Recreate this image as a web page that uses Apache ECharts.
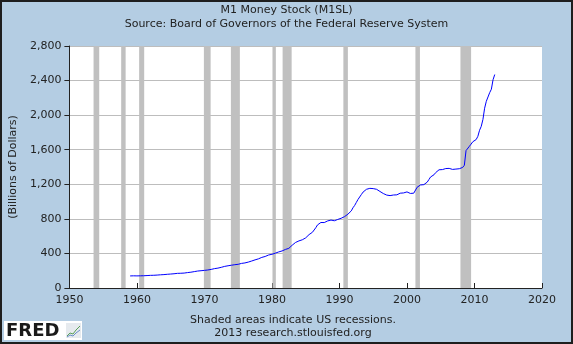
<!DOCTYPE html>
<html>
<head>
<meta charset="utf-8">
<title>M1 Money Stock (M1SL)</title>
<script src="https://cdn.jsdelivr.net/npm/echarts@6/dist/echarts.min.js"></script>
<style>
  html, body { margin: 0; padding: 0; background: #b4cde3; }
  #chart { width: 573px; height: 344px; }
</style>
</head>
<body>
<div id="chart"></div>
<script>
// M1 money stock, billions of dollars, quarterly readings starting 1959 Q1
const m1StartYear = 1959;
const m1Quarterly = [
  139.7, 140.6, 141.0, 140.3,   // 1959
  140.0, 139.8, 141.0, 141.0,   // 1960
  141.8, 143.0, 143.9, 145.5,   // 1961
  146.4, 147.2, 147.3, 148.3,   // 1962
  149.6, 151.0, 152.6, 153.6,   // 1963
  155.0, 156.6, 158.7, 160.1,   // 1964
  161.5, 162.6, 164.7, 167.0,   // 1965
  169.4, 170.8, 170.5, 171.5,   // 1966
  172.8, 175.4, 178.4, 180.6,   // 1967
  182.8, 186.5, 189.5, 193.1,   // 1968
  196.2, 198.8, 200.1, 201.6,   // 1969
  203.8, 205.5, 208.3, 211.6,   // 1970
  215.3, 220.5, 224.2, 226.0,   // 1971
  230.1, 234.4, 239.2, 245.2,   // 1972
  250.1, 254.3, 257.2, 260.5,   // 1973
  263.5, 267.1, 269.7, 272.9,   // 1974
  274.1, 279.5, 284.6, 286.8,   // 1975
  290.0, 296.0, 299.9, 305.9,   // 1976
  312.2, 318.6, 325.5, 331.5,   // 1977
  337.3, 347.4, 354.0, 359.0,   // 1978
  364.7, 373.0, 381.5, 384.7,   // 1979
  390.1, 386.7, 403.0, 412.2,   // 1980
  417.4, 427.3, 428.7, 436.6,   // 1981
  446.3, 450.3, 459.0, 476.6,   // 1982
  495.0, 512.0, 527.0, 536.0,   // 1983
  545.0, 554.0, 558.0, 566.0,   // 1984
  580.0, 597.0, 618.0, 632.0,   // 1985
  645.0, 668.0, 698.0, 730.0,   // 1986
  748.0, 758.0, 755.0, 757.0,   // 1987
  762.0, 776.0, 784.0, 786.0,   // 1988
  786.0, 778.0, 784.0, 793.0,   // 1989
  800.0, 807.0, 817.0, 826.0,   // 1990
  836.0, 854.0, 868.0, 892.0,   // 1991
  928.0, 955.0, 990.0, 1025.0,  // 1992
  1048.0, 1082.0, 1110.0, 1130.0, // 1993
  1142.0, 1148.0, 1153.0, 1152.0, // 1994
  1150.0, 1147.0, 1142.0, 1127.0, // 1995
  1117.0, 1110.0, 1093.0, 1080.0, // 1996
  1075.0, 1068.0, 1069.0, 1072.0, // 1997
  1076.0, 1075.0, 1078.0, 1093.0, // 1998
  1097.0, 1102.0, 1100.0, 1122.0, // 1999
  1112.0, 1103.0, 1094.0, 1087.0, // 2000
  1097.0, 1120.0, 1165.0, 1185.0, // 2001
  1192.0, 1188.0, 1196.0, 1212.0, // 2002
  1225.0, 1255.0, 1285.0, 1296.0, // 2003
  1310.0, 1335.0, 1348.0, 1368.0, // 2004
  1372.0, 1370.0, 1375.0, 1382.0, // 2005
  1385.0, 1384.0, 1370.0, 1372.0, // 2006
  1374.0, 1376.0, 1375.0, 1380.0, // 2007
  1388.0, 1395.0, 1420.0, 1590.0, // 2008
  1600.0, 1640.0, 1665.0, 1692.0, // 2009
  1700.0, 1718.0, 1755.0, 1825.0, // 2010
  1870.0, 1950.0, 2080.0, 2160.0, // 2011
  2210.0, 2260.0, 2300.0, 2410.0, // 2012
  2470.0                          // 2013
];

// NBER recession periods (decimal years)
const recessionStarts = [1953.58, 1957.67, 1960.33, 1969.92, 1973.92, 1980.08, 1981.58, 1990.58, 2001.25, 2007.92];
const recessionEnds   = [1954.42, 1958.33, 1961.08, 1970.92, 1975.25, 1980.58, 1982.92, 1991.25, 2001.92, 2009.50];

const xTicks = { min: 1950, max: 2020, step: 10 };
const yTicks = { min: 0, max: 2800, step: 400 };

const titleText = 'M1 Money Stock (M1SL)';
const sourceText = 'Source: Board of Governors of the Federal Reserve System';
const noteText = 'Shaded areas indicate US recessions.';
const creditText = '2013 research.stlouisfed.org';
const yAxisTitle = '(Billions of Dollars)';

const FONT = 'DejaVu Sans';
const TEXT = '#222';

const m1Points = m1Quarterly.map((v, i) => [m1StartYear + i / 4, v]);
const recessionAreas = recessionStarts.map((s, i) => [{ xAxis: s }, { xAxis: recessionEnds[i] }]);

const chart = echarts.init(document.getElementById('chart'), null, { renderer: 'canvas' });

chart.setOption({
  backgroundColor: '#b4cde3',
  animation: false,
  grid: {
    left: 62, right: 31, top: 46, bottom: 56,
    show: true, backgroundColor: '#ffffff', borderWidth: 0
  },
  xAxis: {
    type: 'value',
    min: xTicks.min, max: xTicks.max, interval: xTicks.step,
    axisLine: { show: true, lineStyle: { color: '#222', width: 1 } },
    axisTick: { show: true, inside: true, length: 5, lineStyle: { color: '#222' } },
    splitLine: { show: false },
    axisLabel: { color: TEXT, fontFamily: FONT, fontSize: 11, margin: 7, formatter: v => String(v) }
  },
  yAxis: {
    type: 'value',
    min: yTicks.min, max: yTicks.max, interval: yTicks.step,
    name: yAxisTitle,
    nameLocation: 'middle',
    nameRotate: 90,
    nameGap: 48,
    nameTextStyle: { color: TEXT, fontFamily: FONT, fontSize: 11 },
    axisLine: { show: true, lineStyle: { color: '#222', width: 1 } },
    axisTick: { show: true, inside: false, length: 5, lineStyle: { color: '#222' } },
    splitLine: { show: true, lineStyle: { color: '#bdbdbd', width: 1 } },
    axisLabel: {
      color: TEXT, fontFamily: FONT, fontSize: 11, margin: 8,
      formatter: v => v.toLocaleString('en-US')
    }
  },
  series: [
    {
      name: 'Recessions',
      type: 'line',
      data: [],
      z: 1,
      silent: true,
      markArea: {
        silent: true,
        itemStyle: { color: '#c0c0c0', opacity: 1 },
        data: recessionAreas
      }
    },
    {
      name: 'M1SL',
      type: 'line',
      data: m1Points,
      z: 3,
      showSymbol: false,
      symbol: 'none',
      lineStyle: { color: '#0000ff', width: 1 },
      silent: true
    }
  ],
  graphic: [
    {
      type: 'text', left: 'center', top: 5,
      style: { text: titleText, fill: TEXT, font: '11px "DejaVu Sans"', textAlign: 'center' }
    },
    {
      type: 'text', left: 'center', top: 19,
      style: { text: sourceText, fill: TEXT, font: '11px "DejaVu Sans"', textAlign: 'center' }
    },
    {
      type: 'text', x: 293, y: 320,
      style: { text: noteText, fill: TEXT, font: '11px "DejaVu Sans"', textAlign: 'center', textVerticalAlign: 'middle' }
    },
    {
      type: 'text', x: 293, y: 333,
      style: { text: creditText, fill: TEXT, font: '11px "DejaVu Sans"', textAlign: 'center', textVerticalAlign: 'middle' }
    },
    // FRED badge
    {
      type: 'group', x: 4, y: 321,
      children: [
        { type: 'rect', shape: { x: 0, y: 0, width: 78, height: 19 }, style: { fill: '#ffffff' } },
        { type: 'text', x: 2, y: 10,
          style: { text: 'FRED', fill: '#1a1a1a', font: 'bold 18px "DejaVu Sans"', textVerticalAlign: 'middle' } },
        { type: 'rect', shape: { x: 62, y: 2, width: 15, height: 15 }, style: { fill: '#e6eaee' } },
        { type: 'polyline', shape: { points: [[63, 15], [66, 12], [69, 13], [72, 9], [76, 5]] },
          style: { stroke: '#5aa05a', lineWidth: 1, fill: null } },
        { type: 'polyline', shape: { points: [[63, 16], [66, 14], [69, 15], [72, 12], [76, 9]] },
          style: { stroke: '#6a8fc8', lineWidth: 1, fill: null } }
      ]
    },
    // outer frame
    {
      type: 'rect', z: 100, silent: true,
      shape: { x: 1, y: 1, width: 571, height: 342 },
      style: { fill: null, stroke: '#1e1e1e', lineWidth: 2 }
    }
  ]
});
</script>
</body>
</html>
